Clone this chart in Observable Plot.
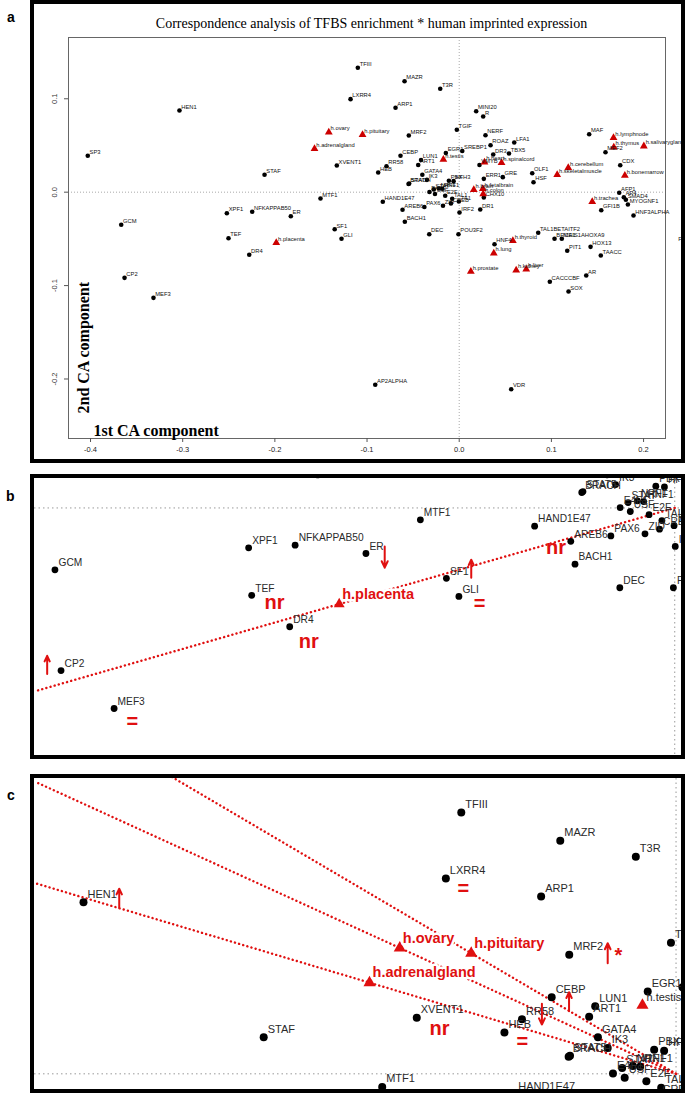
<!DOCTYPE html>
<html><head><meta charset="utf-8">
<script src="https://cdn.jsdelivr.net/npm/d3@7"></script>
<script src="https://cdn.jsdelivr.net/npm/@observablehq/plot@0.6"></script>
<style>
body{margin:0;background:#fff;}
#wrap{position:relative;width:685px;height:1093px;overflow:hidden;background:#fff;}
.panel{position:absolute;}
.panel svg{display:block;}
.box{position:absolute;border:4px solid #000;box-sizing:border-box;pointer-events:none;}
.lab{position:absolute;font:bold 14px "Liberation Sans",Arial,sans-serif;line-height:14px;}
</style></head><body><div id="wrap"></div>
<script>
// ---- data: transcription factor binding sites (circles) ----
const tfNames = ["SP3","HEN1","GCM","CP2","MEF3","XPF1","NFKAPPAB50","ER","TEF","DR4","STAF","MTF1","SF1","GLI","XVENT1","LXRR4","TFIII","MAZR","T3R","ARP1","MRF2","TGIF","MINI20","R","NERF","ROAZ","LFA1","SREBP1","EGR1","CEBP","LUN1","ART1","RR58","HEB","GATA4","IK3","DR3","TBX5","VMYB","GRE","OLF1","HSF","MAF","MEF2","CDX","AFP1","AP4","SMAD4","MYOGNF1","GFI1B","HNF3ALPHA","HAND1E47","AREB6","PAX6","BACH1","IRF2","DR1","CHX10","DEC","POU3F2","TAL1BETAITF2","HNF4","BRCA1","MEIS1AHOXA9","PIT1","HOX13","TAACC","AR","CACCCBF","SOX","AP2ALPHA","VDR","BRACH","STAT5","PBX","HFH3","ERR1","E4F1","USF","STAT","NRF1","HNF1","E2F","TAL1","CREB","ZID","7A1","FOXJ2"];
const tfX = [-0.4030,-0.3035,-0.3667,-0.3631,-0.3317,-0.2521,-0.2246,-0.1827,-0.2503,-0.2278,-0.2112,-0.1505,-0.1351,-0.1277,-0.1328,-0.1179,-0.1100,-0.0593,-0.0206,-0.0691,-0.0547,-0.0026,0.0184,0.0260,0.0285,0.0340,0.0597,0.0033,-0.0145,-0.0637,-0.0414,-0.0445,-0.0789,-0.0879,-0.0400,-0.0350,0.0369,0.0540,0.0220,0.0473,0.0792,0.0806,0.1410,0.1587,0.1747,0.1736,0.1786,0.1808,0.1830,0.1541,0.1891,-0.0829,-0.0615,-0.0378,-0.0590,0.0003,0.0228,0.0267,-0.0325,-0.0008,0.0857,0.0383,0.1034,0.1113,0.1172,0.1425,0.1536,0.1378,0.0983,0.1186,-0.0911,0.0564,-0.0550,-0.0543,-0.0112,-0.0061,0.0267,-0.0323,-0.0263,-0.0276,-0.0221,-0.0184,-0.0152,-0.0076,-0.0090,-0.0176,-0.0004,0.2358];
const tfY = [0.0390,0.0875,-0.0349,-0.0917,-0.1131,-0.0225,-0.0210,-0.0257,-0.0493,-0.0670,0.0186,-0.0067,-0.0397,-0.0499,0.0286,0.0996,0.1332,0.1188,0.1107,0.0904,0.0607,0.0668,0.0867,0.0810,0.0610,0.0503,0.0532,0.0441,0.0420,0.0390,0.0345,0.0291,0.0278,0.0211,0.0187,0.0132,0.0404,0.0414,0.0291,0.0161,0.0203,0.0107,0.0621,0.0428,0.0289,-0.0006,-0.0054,-0.0081,-0.0132,-0.0193,-0.0249,-0.0103,-0.0188,-0.0158,-0.0317,-0.0217,-0.0185,-0.0057,-0.0450,-0.0450,-0.0435,-0.0557,-0.0499,-0.0499,-0.0627,-0.0585,-0.0678,-0.0892,-0.0959,-0.1063,-0.2062,-0.2109,0.0087,0.0092,0.0123,0.0118,0.0143,0.0002,-0.0020,0.0030,0.0040,0.0036,-0.0038,-0.0071,-0.0120,-0.0146,-0.0100,-0.0539];

// ---- data: human tissues (red triangles) ----
const tissueNames = ["h.ovary","h.adrenalgland","h.pituitary","h.placenta","h.testis","h.heart","h.spinalcord","h.brain","h.fetalbrain","h.colon","h.skeletalmuscle","h.cerebellum","h.lymphnode","h.thymus","h.salivarygland","h.bonemarrow","h.trachea","h.thyroid","h.lung","h.prostate","h.kidney","h.liver"];
const tissueX = [-0.1415,-0.1570,-0.1049,-0.1985,-0.0172,0.0274,0.0459,0.0158,0.0256,0.0260,0.1063,0.1183,0.1674,0.1677,0.2003,0.1797,0.1443,0.0582,0.0375,0.0126,0.0618,0.0727];
const tissueY = [0.0642,0.0465,0.0615,-0.0542,0.0350,0.0321,0.0315,0.0026,0.0036,-0.0019,0.0186,0.0261,0.0582,0.0482,0.0493,0.0179,-0.0103,-0.0520,-0.0653,-0.0849,-0.0835,-0.0824];

// ---- axes / titles ----
const xTicks = [-0.4,-0.3,-0.2,-0.1,0.0,0.1,0.2];
const yTicks = [-0.2,-0.1,0.0,0.1];
const titleText = "Correspondence analysis of TFBS enrichment * human imprinted expression";
const xTitle = "1st CA component";
const yTitle = "2nd CA component";

// ---- panel b annotations ----
const bHighlight = ["h.placenta"];
const bAnnText = ["nr","nr","=","=","nr"];
const bAnnX = [-0.2368,-0.2165,-0.3209,-0.1155,-0.0702];
const bAnnY = [-0.0531,-0.0751,-0.1202,-0.0537,-0.0221];
const bArrowX = [-0.3713,-0.1716,-0.1204];
const bArrowFrom = [-0.0937,-0.0217,-0.0394];
const bArrowTo = [-0.0834,-0.0337,-0.0292];

// ---- panel c annotations ----
const cHighlight = ["h.adrenalgland","h.ovary","h.pituitary"];
const cAnnText = ["=","nr","=","*"];
const cAnnX = [-0.1089,-0.1212,-0.0787,-0.0295];
const cAnnY = [0.0944,0.0229,0.0166,0.0603];
const cArrowX = [-0.2852,-0.0350,-0.0548,-0.0687];
const cArrowFrom = [0.0847,0.0564,0.0319,0.0357];
const cArrowTo = [0.0944,0.0666,0.0416,0.0251];

// ---------------------------------------------------------------
const RED = "#e01010";
const SANS = "Liberation Sans, Arial, Helvetica, sans-serif";
const SERIF = "Liberation Serif, Times New Roman, serif";
const tfs = tfNames.map((name,i)=>({name, x:tfX[i], y:tfY[i]}));
const tissues = tissueNames.map((name,i)=>({name, x:tissueX[i], y:tissueY[i]}));
const allPts = tfs.concat(tissues);
const wrap = document.getElementById("wrap");

function place(node, left, top){
  const d = document.createElement("div");
  d.className = "panel"; d.style.left = left+"px"; d.style.top = top+"px";
  d.appendChild(node); wrap.appendChild(d);
}
function box(left, top, w, h){
  const d = document.createElement("div");
  d.className = "box";
  Object.assign(d.style,{left:left+"px",top:top+"px",width:w+"px",height:h+"px"});
  wrap.appendChild(d);
}
function letter(t, left, top){
  const d = document.createElement("div");
  d.className = "lab"; d.textContent = t;
  d.style.left = left+"px"; d.style.top = top+"px";
  wrap.appendChild(d);
}

// ---------------- panel a ----------------
const pa = Plot.plot({
  width: 685, height: 463,
  marginLeft: 68, marginRight: 20, marginTop: 37, marginBottom: 25,
  x: {domain: [-0.4239, 0.2238]},
  y: {domain: [-0.2637, 0.1656]},
  style: {fontFamily: SANS, background: "transparent", color: "#222"},
  marks: [
    Plot.ruleX([0], {stroke: "#aaa", strokeDasharray: "1,2"}),
    Plot.ruleY([0], {stroke: "#aaa", strokeDasharray: "1,2"}),
    Plot.frame({stroke: "#666"}),
    Plot.axisX({ticks: xTicks, tickSize: 4, tickPadding: 4, fontSize: 7.5, tickFormat: d => d.toFixed(1), label: null, stroke: "#555"}),
    Plot.axisY({ticks: yTicks, tickSize: 4, tickFormat: () => "", label: null, stroke: "#555"}),
    Plot.text(yTicks, {y: d => d, text: d => d.toFixed(1), frameAnchor: "left", rotate: -90, dx: -14, fontSize: 7.5, textAnchor: "middle", lineAnchor: "middle", fill: "#333"}),
    Plot.dot(tfs, {x: "x", y: "y", r: 2.3, fill: "black", stroke: null, clip: true}),
    Plot.dot(tissues, {x: "x", y: "y", symbol: "triangle", r: 2.9, fill: "#cc0000", stroke: null, clip: true}),
    Plot.text(allPts, {x: "x", y: "y", text: "name", textAnchor: "start", lineAnchor: "middle", dx: 1.8, dy: -3.6, fontSize: 5.8, fill: "#111"}),
    Plot.text([titleText], {frameAnchor: "top", dx: 4.5, dy: -13.7, lineAnchor: "middle", fontSize: 14, fontFamily: SERIF, fill: "#000"}),
    Plot.text([xTitle], {frameAnchor: "bottom-left", dx: 25, dy: -8, textAnchor: "start", lineAnchor: "middle", fontSize: 16, fontWeight: "bold", fontFamily: SERIF, fill: "#000"}),
    Plot.text([yTitle], {frameAnchor: "bottom-left", dx: 15.3, dy: -25, rotate: -90, textAnchor: "start", lineAnchor: "middle", fontSize: 16, fontWeight: "bold", fontFamily: SERIF, fill: "#000"})
  ]
});
place(pa, 0, 0);

// ---------------- zoom panels ----------------
function zoomPlot(o){
  const hl = tissues.filter(d => o.highlight.includes(d.name));
  const rays = hl.flatMap(d => {
    const k = o.xd[0] / d.x;
    return [{g: d.name, x: 0, y: 0}, {g: d.name, x: d.x*k, y: d.y*k}];
  });
  const plain = allPts.filter(d => !o.highlight.includes(d.name));
  const ann = o.annText.map((t,i) => ({t, x: o.annX[i], y: o.annY[i]}));
  const arrows = o.arrX.map((x,i) => ({x, from: o.arrFrom[i], to: o.arrTo[i]}));
  return Plot.plot({
    width: o.width, height: o.height, margin: 0,
    x: {domain: o.xd, axis: null},
    y: {domain: o.yd, axis: null},
    style: {fontFamily: SANS, background: "#fff"},
    marks: [
      Plot.ruleX([0], {stroke: "#999", strokeDasharray: "1.5,3", clip: true}),
      Plot.ruleY([0], {stroke: "#999", strokeDasharray: "1.5,3", clip: true}),
      Plot.line(rays, {x: "x", y: "y", z: "g", stroke: RED, strokeWidth: 2.4, strokeDasharray: "0.1,4.2", strokeLinecap: "round", clip: true}),
      Plot.dot(tfs, {x: "x", y: "y", r: o.ptR, fill: "black", stroke: null, clip: true}),
      Plot.dot(tissues, {x: "x", y: "y", symbol: "triangle", r: o.triR, fill: RED, stroke: null, clip: true}),
      Plot.text(plain, {x: "x", y: "y", text: "name", textAnchor: "start", lineAnchor: "middle", dx: o.ldx, dy: o.ldy, fontSize: o.lsize, fill: "#2a2a2a", clip: true}),
      Plot.text(hl, {x: "x", y: "y", text: "name", textAnchor: "start", lineAnchor: "middle", dx: 3, dy: -10, fontSize: 14.5, fontWeight: "bold", fill: RED, stroke: "white", strokeWidth: 5, clip: true}),
      Plot.text(ann, {x: "x", y: "y", text: "t", fontSize: 20, fontWeight: "bold", fill: RED, lineAnchor: "middle", clip: true}),
      Plot.arrow(arrows, {x1: "x", y1: "from", x2: "x", y2: "to", stroke: RED, strokeWidth: 2, headLength: 7, headAngle: 50, clip: true})
    ]
  });
}

const pb = zoomPlot({
  width: 647, height: 277, xd: [-0.3788, 0.0040], yd: [-0.1396, 0.0166],
  highlight: bHighlight, annText: bAnnText, annX: bAnnX, annY: bAnnY,
  arrX: bArrowX, arrFrom: bArrowFrom, arrTo: bArrowTo,
  ptR: 3.4, triR: 4, lsize: 10.2, ldx: 3.5, ldy: -7
});
place(pb, 34, 478);

const pc = zoomPlot({
  width: 647, height: 311, xd: [-0.3286, 0.0028], yd: [-0.0080, 0.1506],
  highlight: cHighlight, annText: cAnnText, annX: cAnnX, annY: cAnnY,
  arrX: cArrowX, arrFrom: cArrowFrom, arrTo: cArrowTo,
  ptR: 4, triR: 4.5, lsize: 11, ldx: 4, ldy: -8
});
place(pc, 34, 778);

box(30, 0, 655, 463);
box(30, 474, 655, 285);
box(30, 774, 655, 319);
letter("a", 7, 10);
letter("b", 6, 489);
letter("c", 7, 788);
</script></body></html>
